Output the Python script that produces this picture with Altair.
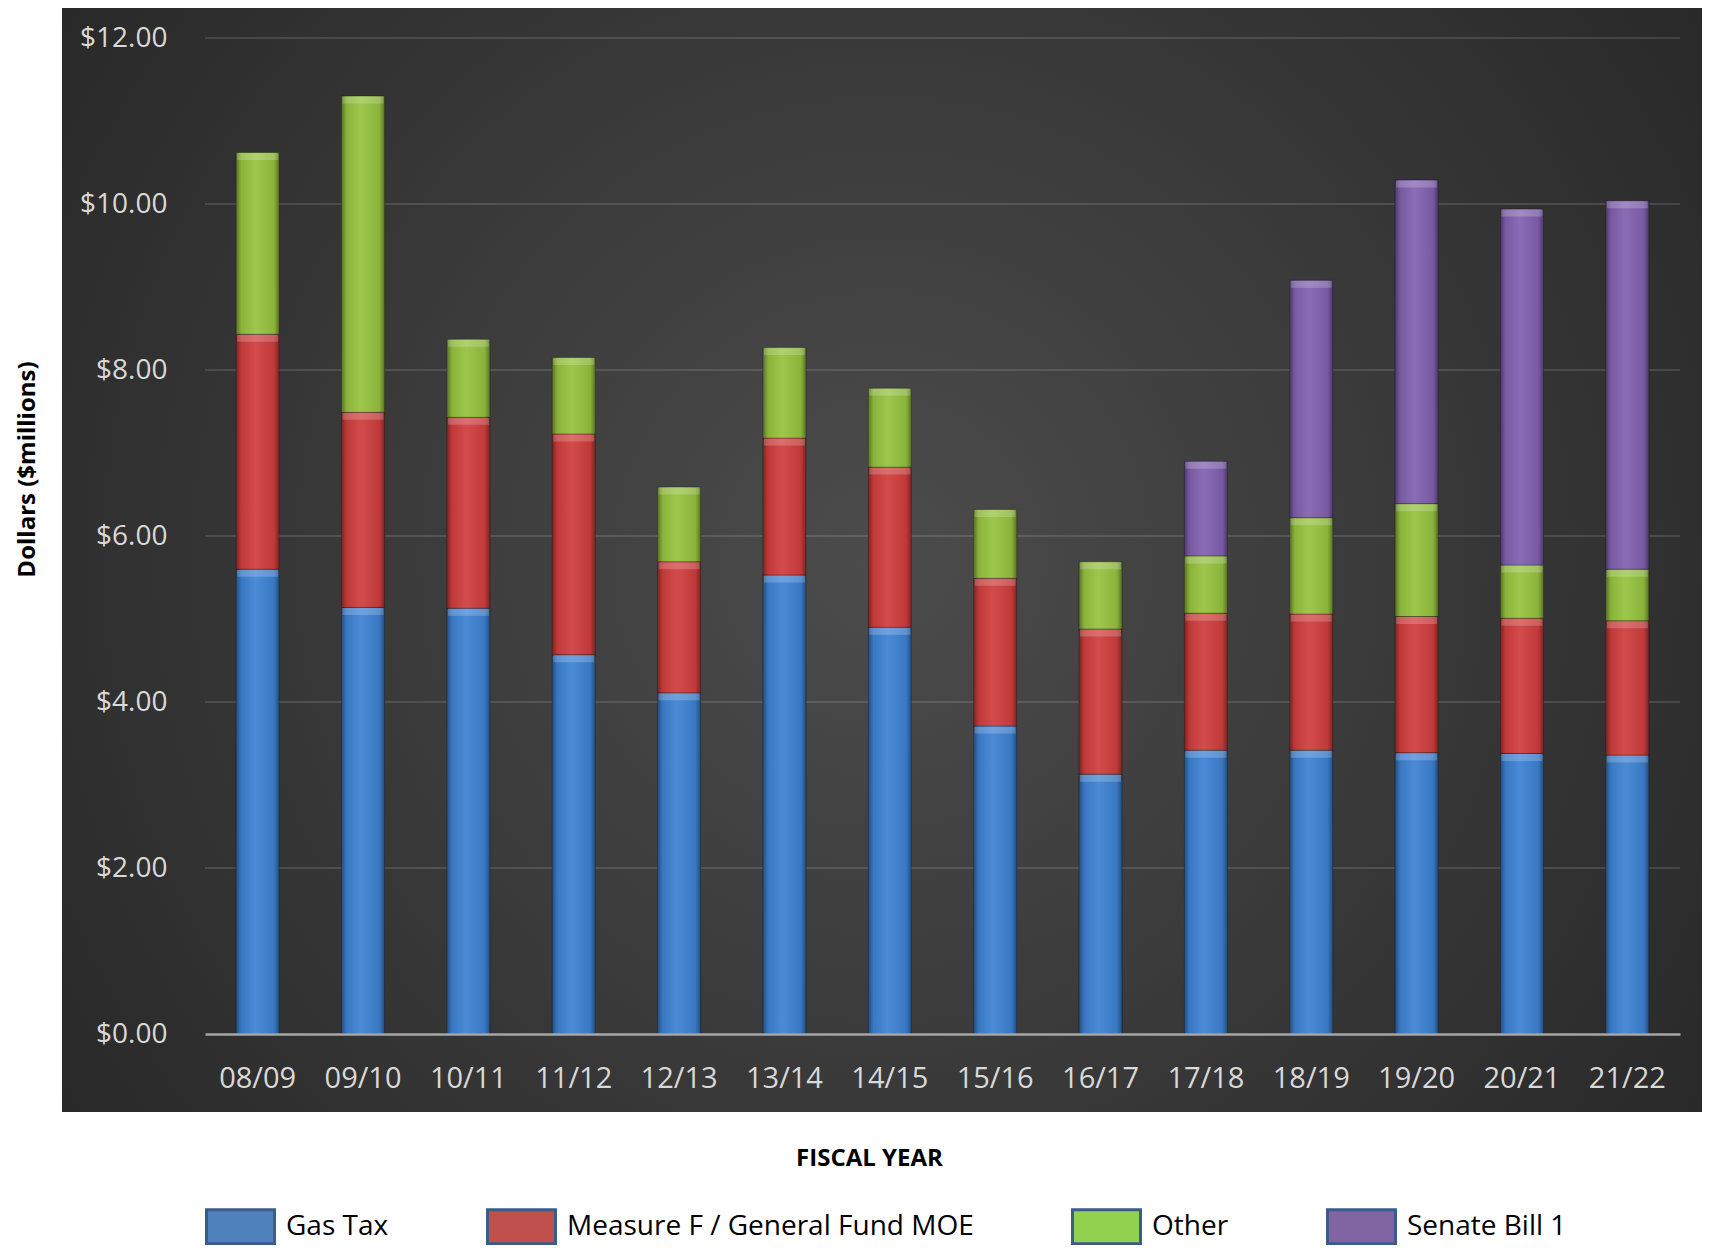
import altair as alt
import pandas as pd

years = ["08/09", "09/10", "10/11", "11/12", "12/13", "13/14", "14/15",
         "15/16", "16/17", "17/18", "18/19", "19/20", "20/21", "21/22"]
gas_tax   = [5.60, 5.14, 5.13, 4.57, 4.11, 5.53, 4.90, 3.71, 3.13, 3.42, 3.42, 3.39, 3.38, 3.36]
measure_f = [2.83, 2.35, 2.30, 2.66, 1.58, 1.65, 1.93, 1.78, 1.75, 1.65, 1.64, 1.64, 1.63, 1.62]
other     = [2.19, 3.81, 0.94, 0.92, 0.90, 1.09, 0.95, 0.83, 0.81, 0.69, 1.16, 1.36, 0.64, 0.62]
senate_b1 = [0, 0, 0, 0, 0, 0, 0, 0, 0, 1.14, 2.86, 3.90, 4.29, 4.44]

series_names = ["Gas Tax", "Measure F / General Fund MOE", "Other", "Senate Bill 1"]
bar_colors = ["#3d82d3", "#cf3e3d", "#96c23f", "#8161b0"]
legend_colors = ["#4f81bd", "#c0504d", "#92d050", "#8064a2"]
y_ticks = [0, 2, 4, 6, 8, 10, 12]
grid_vals = [2, 4, 6, 8, 10, 12]

rows = []
for s_i, (name, vals) in enumerate(zip(series_names, [gas_tax, measure_f, other, senate_b1])):
    for y, v in zip(years, vals):
        rows.append({"year": y, "series": name, "order": s_i, "value": v})
df = pd.DataFrame(rows)

W, H = 1475, 996
FONT = "Open Sans"

x_scale = alt.Scale(domain=years, paddingInner=0.59, paddingOuter=0.295)
y_scale = alt.Scale(domain=[0, 12], nice=False)

x_axis = alt.Axis(title="FISCAL YEAR", labelAngle=0, labelFontSize=29, labelColor="#d9d9d9",
                  labelPadding=30, ticks=False, grid=False, domain=True, domainColor="#a6a6a6",
                  domainWidth=2.5, titleFontSize=24, titleFontWeight="bold", titleColor="black",
                  titleX=664, titleY=124, titleBaseline="middle", zindex=1)
y_axis = alt.Axis(values=y_ticks, format="$.2f", grid=False, domain=False, ticks=False,
                  labelPadding=38, labelFontSize=28, labelColor="#d9d9d9",
                  title="Dollars ($millions)", titleFontSize=24, titleFontWeight="bold",
                  titleColor="black", titleX=-178, titleY=431, titleAngle=-90,
                  titleAlign="center", titleBaseline="middle", zindex=1)

X = alt.X("year:N", scale=x_scale, sort=years, axis=x_axis)

# background panel
bg_grad = {"gradient": "radial", "x1": 0.5, "y1": 0.5, "r1": 0, "x2": 0.5, "y2": 0.5, "r2": 0.72,
           "stops": [{"offset": 0, "color": "#4c4c4c"}, {"offset": 1, "color": "#222222"}]}
bg = alt.Chart(pd.DataFrame({"k": [0]})).mark_rect(fill=bg_grad, clip=False).encode(
    x=alt.value(-143), x2=alt.value(W + 22), y=alt.value(-30), y2=alt.value(H + 78)
)

grid = alt.Chart(pd.DataFrame({"v": grid_vals})).mark_rule(
    color="#ffffff", opacity=0.12, strokeWidth=2
).encode(y=alt.Y("v:Q", scale=y_scale, axis=y_axis))

base = alt.Chart(df).transform_stack(
    stack="value", groupby=["year"], as_=["y0", "y1"],
    sort=[alt.SortField("order", order="ascending")]
).transform_filter("datum.value > 0")

bars = base.mark_bar(width=43, stroke="#000000", strokeOpacity=0.3, strokeWidth=1).encode(
    x=X,
    y=alt.Y("y1:Q", scale=y_scale, axis=y_axis),
    y2="y0:Q",
    color=alt.Color("series:N", scale=alt.Scale(domain=series_names, range=bar_colors), legend=None),
)

shade_grad = {"gradient": "linear", "x1": 0, "y1": 0, "x2": 1, "y2": 0,
              "stops": [{"offset": 0, "color": "rgba(0,0,0,0.40)"},
                        {"offset": 0.12, "color": "rgba(0,0,0,0.08)"},
                        {"offset": 0.45, "color": "rgba(255,255,255,0.07)"},
                        {"offset": 0.88, "color": "rgba(0,0,0,0.08)"},
                        {"offset": 1, "color": "rgba(0,0,0,0.40)"}]}
shade = base.mark_bar(width=43, fill=shade_grad).encode(
    x=X,
    y=alt.Y("y1:Q", scale=y_scale, axis=y_axis),
    y2="y0:Q",
)

bevel = base.mark_tick(size=41, thickness=7, color="white", opacity=0.2, yOffset=4).encode(
    x=X,
    y=alt.Y("y1:Q", scale=y_scale, axis=y_axis),
)

legend_layer = alt.Chart(df).mark_point(filled=True, opacity=0).encode(
    x=X,
    y=alt.value(0),
    color=alt.Color("series:N", scale=alt.Scale(domain=series_names, range=legend_colors),
                    legend=alt.Legend(title=None, orient="none", legendX=0, legendY=1153,
                                      direction="horizontal", columns=4, columnPadding=92,
                                      symbolType="M-1,-0.5H1V0.5H-1Z", symbolSize=4624,
                                      symbolStrokeColor="#3b5b88", symbolStrokeWidth=3,
                                      symbolOpacity=1, labelFontSize=28, labelColor="black",
                                      labelOffset=10, labelLimit=800, labelFont=FONT)),
)

chart = alt.layer(bg, grid, bars, shade, bevel, legend_layer).resolve_scale(
    color="independent"
).properties(
    width=W, height=H,
    autosize=alt.AutoSizeParams(type="none"),
    padding={"left": 197, "top": 30, "right": 22, "bottom": 211},
    background="white",
).configure(font=FONT).configure_view(stroke=None)

chart.save("out.html", embed_options={"renderer": "svg", "actions": False})
